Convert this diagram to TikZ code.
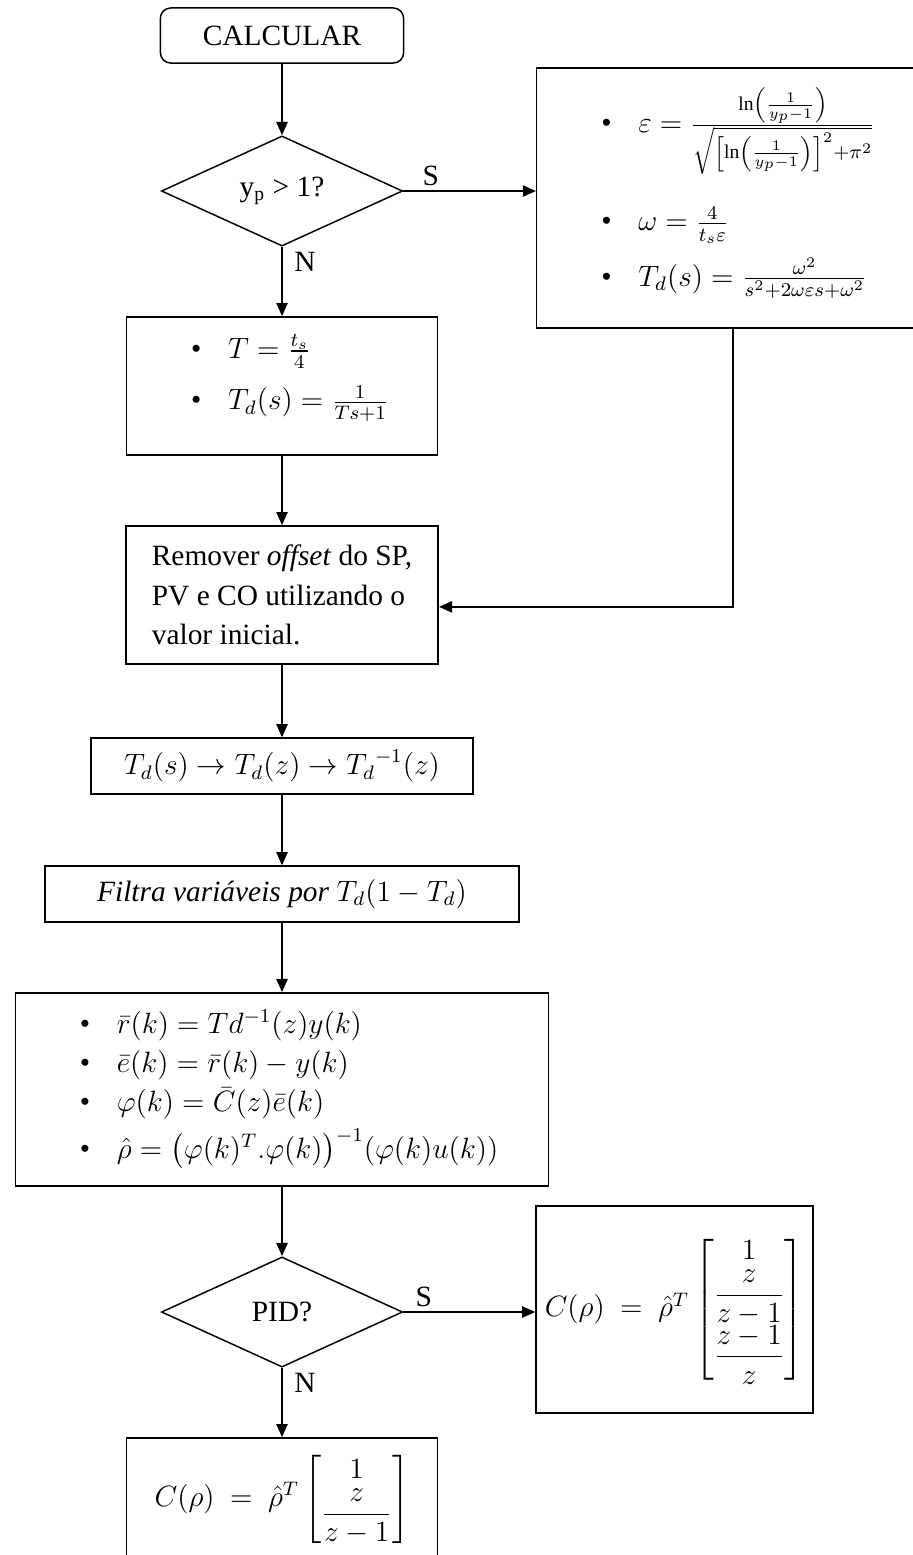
\documentclass[tikz,border=0pt,12pt]{standalone}
\usepackage{amsmath}
\usepackage{fontspec}
\setmainfont{Liberation Serif}
\usetikzlibrary{arrows.meta,positioning,shapes.geometric}
\newcommand{\lbul}{\makebox[0.53cm][l]{\textbullet}}

\begin{document}
\begin{tikzpicture}[x=0.01435cm,y=-0.01435cm,
      term/.style={draw,line width=0.6pt,rounded corners=0.15cm,minimum width=3.49cm,minimum height=0.79cm},
      proc/.style={draw,line width=0.6pt,inner sep=0pt},
      cond/.style={draw,line width=0.6pt,diamond,aspect=2.2,inner sep=0pt,minimum width=3.46cm,minimum height=1.58cm},
      lst/.style={align=left,inner sep=0pt,font=\fontsize{12}{16}\selectfont},
      lbl/.style={inner sep=2pt},
      flow/.style={line width=0.8pt,-{Triangle[length=0.19cm,width=0.16cm]}},
    ]
    \useasboundingbox (0,0) rectangle (913,1555);
    \node[term] (calc) at (282,35.5) {CALCULAR};
    \node[cond] (yp) at (282,191) {y\textsubscript{p} > 1?};
    % overdamped branch, box runs off the right edge
    \node[proc,minimum width=5.63cm,minimum height=3.73cm] (eqover) at (733,198) {};
    \node[lst,anchor=west] (eqovert) at ([xshift=0.93cm,yshift=0.07cm]eqover.west) {%
      \lbul$\varepsilon=\frac{\ln\left(\frac{1}{y_p-1}\right)}{\sqrt{\left[\ln\left(\frac{1}{y_p-1}\right)\right]^2+\pi^2}}$\\[12pt]
      \lbul$\omega=\frac{4}{t_s\varepsilon}$\\[5pt]
      \lbul$T_d(s)=\frac{\omega^2}{s^2+2\omega\varepsilon s+\omega^2}$};
    \node[proc,minimum width=4.46cm,minimum height=1.98cm] (eqsub) at (282,386) {};
    \node[lst,anchor=west] (eqsubt) at ([xshift=0.93cm,yshift=0.11cm]eqsub.west) {%
      \lbul$T=\frac{t_s}{4}$\\[5pt]
      \lbul$T_d(s)=\frac{1}{Ts+1}$};
    \node[proc,align=left,minimum width=4.48cm,minimum height=1.98cm,font=\fontsize{12}{16}\selectfont] (offs) at (282,595)
      {Remover \textit{offset} do SP,\\PV e CO utilizando o\\valor inicial.};
    \node[proc,minimum width=5.48cm,minimum height=0.8cm] (disc) at (282,766)
      {$T_d(s)\rightarrow T_d(z)\rightarrow {T_d}^{-1}(z)$};
    \node[proc,minimum width=6.8cm,minimum height=0.8cm] (filt) at (282,894)
      {\textit{Filtra variáveis por} $T_d(1-T_d)$};
    \node[proc,minimum width=7.65cm,minimum height=2.77cm] (ls) at (282,1089.5) {};
    \node[lst,anchor=west] (lst) at ([xshift=0.93cm]ls.west) {%
      \lbul$\bar{r}(k)=Td^{-1}(z)y(k)$\\
      \lbul$\bar{e}(k)=\bar{r}(k)-y(k)$\\
      \lbul$\varphi(k)=\bar{C}(z)\bar{e}(k)$\\[3pt]
      \lbul$\hat{\rho}=\bigl(\varphi(k)^T.\varphi(k)\bigr)^{-1}(\varphi(k)u(k))$};
    \node[cond] (pid) at (282,1312) {PID?};
    \node[proc,minimum width=3.97cm,minimum height=2.97cm] (cpid) at (674.5,1309.5)
      {$C(\rho)\ =\ \hat{\rho}^T\left[\begin{array}{@{}c@{}}1\\\dfrac{z}{z-1}\\\dfrac{z-1}{z}\end{array}\right]$};
    \node[proc,minimum width=4.46cm,minimum height=1.75cm] (cpi) at (282,1499)
      {$C(\rho)\ =\ \hat{\rho}^T\left[\begin{array}{@{}c@{}}1\\\dfrac{z}{z-1}\end{array}\right]$};
    % connectors
    \foreach \a/\b in {calc/yp,yp/eqsub,eqsub/offs,offs/disc,disc/filt,filt/ls,ls/pid,pid/cpi}
      \draw[flow] (\a) -- (\b);
    \draw[flow] (yp.east) -- (yp.east -| eqover.west);
    \draw[flow] (eqover.south) |- ([yshift=-0.17cm]offs.east);
    \draw[flow] (pid.east) -- (pid.east -| cpid.west);
    \node[lbl,anchor=south west,xshift=0.2cm] (yps) at (yp.east) {S};
    \node[lbl,anchor=north west,xshift=0.1cm] (ypn) at (yp.south) {N};
    \node[lbl,anchor=south west,xshift=0.1cm] (pids) at (pid.east) {S};
    \node[lbl,anchor=north west,xshift=0.1cm] (pidn) at (pid.south) {N};
  \end{tikzpicture}
\end{document}
